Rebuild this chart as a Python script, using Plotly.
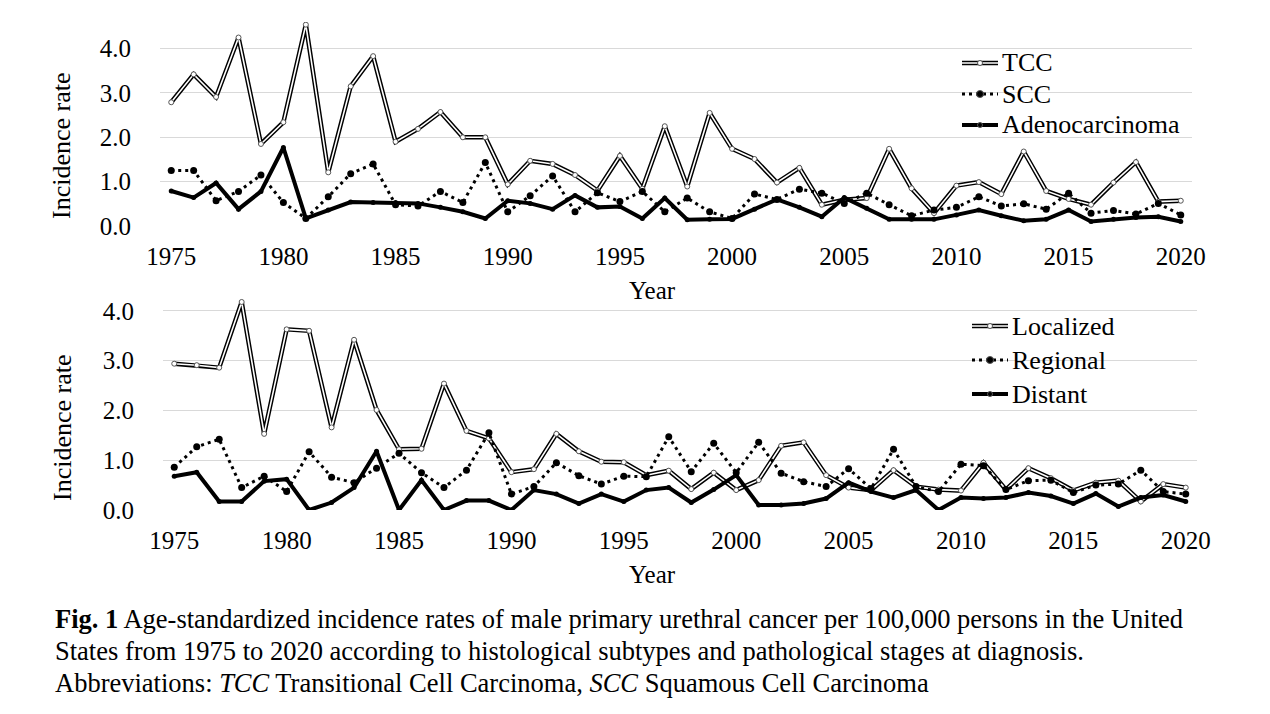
import plotly.graph_objects as go

# ---- data ----
years = list(range(1975, 2021))

# top panel: histological subtypes
tcc = [2.79, 3.42, 2.91, 4.25, 1.85, 2.34, 4.54, 1.21, 3.15, 3.83,
       1.90, 2.19, 2.57, 2.00, 2.00, 0.94, 1.47, 1.40, 1.15, 0.80,
       1.58, 0.84, 2.25, 0.89, 2.55, 1.74, 1.51, 0.98, 1.31, 0.48,
       0.59, 0.63, 1.74, 0.85, 0.29, 0.91, 0.99, 0.72, 1.68, 0.79,
       0.61, 0.48, 0.98, 1.44, 0.55, 0.57]
scc = [1.25, 1.25, 0.57, 0.78, 1.15, 0.53, 0.17, 0.66, 1.18, 1.40,
       0.48, 0.45, 0.78, 0.53, 1.43, 0.32, 0.68, 1.13, 0.32, 0.75,
       0.55, 0.78, 0.32, 0.63, 0.32, 0.17, 0.72, 0.60, 0.83, 0.74,
       0.51, 0.74, 0.48, 0.23, 0.36, 0.42, 0.66, 0.45, 0.50, 0.38,
       0.74, 0.29, 0.35, 0.27, 0.51, 0.25]
adeno = [0.79, 0.64, 0.97, 0.38, 0.78, 1.77, 0.17, 0.36, 0.54, 0.53,
         0.53, 0.51, 0.42, 0.32, 0.17, 0.57, 0.51, 0.38, 0.69, 0.42,
         0.44, 0.17, 0.63, 0.14, 0.15, 0.16, 0.38, 0.60, 0.42, 0.21,
         0.64, 0.40, 0.15, 0.15, 0.15, 0.25, 0.36, 0.23, 0.12, 0.15,
         0.36, 0.10, 0.15, 0.19, 0.21, 0.10]

# bottom panel: stages at diagnosis
localized = [2.94, 2.91, 2.86, 4.18, 1.53, 3.63, 3.60, 1.66, 3.42, 2.01,
             1.22, 1.23, 2.54, 1.59, 1.44, 0.76, 0.82, 1.53, 1.18, 0.97,
             0.96, 0.70, 0.79, 0.42, 0.75, 0.40, 0.60, 1.29, 1.36, 0.70,
             0.45, 0.40, 0.80, 0.47, 0.41, 0.39, 0.95, 0.41, 0.84, 0.64,
             0.39, 0.55, 0.59, 0.17, 0.52, 0.45]
regional = [0.86, 1.27, 1.42, 0.45, 0.68, 0.37, 1.17, 0.66, 0.55, 0.84,
            1.14, 0.75, 0.45, 0.80, 1.55, 0.32, 0.47, 0.95, 0.69, 0.52,
            0.68, 0.67, 1.47, 0.77, 1.34, 0.75, 1.36, 0.74, 0.57, 0.47,
            0.83, 0.43, 1.22, 0.47, 0.37, 0.92, 0.89, 0.41, 0.59, 0.60,
            0.35, 0.50, 0.52, 0.80, 0.37, 0.32]
distant = [0.68, 0.76, 0.17, 0.17, 0.58, 0.62, 0.00, 0.15, 0.45, 1.18,
           0.00, 0.60, 0.00, 0.19, 0.19, 0.00, 0.40, 0.32, 0.13, 0.32,
           0.17, 0.40, 0.45, 0.15, 0.41, 0.70, 0.10, 0.10, 0.13, 0.23,
           0.55, 0.37, 0.25, 0.40, 0.00, 0.25, 0.23, 0.25, 0.35, 0.28,
           0.13, 0.33, 0.07, 0.25, 0.30, 0.17]

xticks = list(range(1975, 2021, 5))
yticks = [0, 1, 2, 3, 4]
ytick_text = ["0.0", "1.0", "2.0", "3.0", "4.0"]

W, H = 1270, 714
OFF = 8  # the page body adds an 8px margin; shift everything back by that
FONT = "Liberation Serif, Times New Roman, serif"


def px(x):
    return (x - OFF) / W


def py(y):
    return 1 - (y - OFF) / H


fig = go.Figure()


def add_panel(fig, xa, ya, series):
    s1, s2, s3 = series
    # double line: thick black underneath, thin white on top
    fig.add_trace(go.Scatter(x=years, y=s1, mode="lines", xaxis=xa, yaxis=ya,
                             line=dict(color="black", width=4.5)))
    fig.add_trace(go.Scatter(x=years, y=s1, mode="lines+markers", xaxis=xa, yaxis=ya,
                             line=dict(color="white", width=1.6),
                             marker=dict(size=5, color="white", line=dict(color="#555", width=1))))
    fig.add_trace(go.Scatter(x=years, y=s2, mode="lines+markers", xaxis=xa, yaxis=ya,
                             line=dict(color="black", width=3, dash="3px,4px"),
                             marker=dict(size=7, color="black")))
    fig.add_trace(go.Scatter(x=years, y=s3, mode="lines+markers", xaxis=xa, yaxis=ya,
                             line=dict(color="black", width=4),
                             marker=dict(size=5, color="black")))


add_panel(fig, "x", "y", (tcc, scc, adeno))
add_panel(fig, "x2", "y2", (localized, regional, distant))

xcommon = dict(showline=False, zeroline=False, ticks="", showgrid=False, automargin=False,
               tickvals=xticks, range=[1974.5, 2020.5], ticklabelstandoff=13,
               tickfont=dict(family=FONT, size=25, color="black"))
ycommon = dict(showline=False, zeroline=False, ticks="", showgrid=True, automargin=False,
               tickvals=yticks, ticktext=ytick_text, gridcolor="#d9d9d9", gridwidth=1,
               ticklabelstandoff=28, tickfont=dict(family=FONT, size=25, color="black"))

fig.update_layout(
    width=W, height=H,
    margin=dict(l=0, r=0, t=0, b=0),
    paper_bgcolor="white", plot_bgcolor="white",
    font=dict(family=FONT, size=24, color="black"),
    showlegend=False,
    xaxis=dict(domain=[px(160), px(1192)], anchor="y", **xcommon),
    yaxis=dict(domain=[py(226), py(22)], range=[0, 4.6], anchor="x", **ycommon),
    xaxis2=dict(domain=[px(163), px(1197)], anchor="y2", **xcommon),
    yaxis2=dict(domain=[py(510), py(296)], range=[0, 4.3], anchor="x2", **ycommon),
)

# axis titles
for yc in (146, 428):
    fig.add_annotation(text="Incidence rate", x=px(62), y=py(yc), xref="paper", yref="paper",
                       xanchor="center", yanchor="middle", textangle=-90, showarrow=False,
                       font=dict(family=FONT, size=26))
for yc in (291, 574):
    fig.add_annotation(text="Year", x=px(652), y=py(yc), xref="paper", yref="paper",
                       xanchor="center", yanchor="middle", showarrow=False,
                       font=dict(family=FONT, size=25))

# legend keys (drawn by hand so the double line can be shown)
legend_rows = [
    (962, [63, 94, 125], ["TCC", "SCC", "Adenocarcinoma"]),
    (972, [326, 360, 394], ["Localized", "Regional", "Distant"]),
]
styles = [
    [dict(color="black", width=4.5), dict(color="white", width=1.6)],
    [dict(color="black", width=3, dash="3px,4px")],
    [dict(color="black", width=4)],
]
for x0, ys, labels in legend_rows:
    x1 = x0 + 36
    xm = (x0 + x1) / 2
    for yc, lab, st in zip(ys, labels, styles):
        for ln in st:
            fig.add_shape(type="line", xref="paper", yref="paper",
                          x0=px(x0), x1=px(x1), y0=py(yc), y1=py(yc), line=ln)
        fig.add_annotation(text=lab, x=px(x1 + 2), y=py(yc), xref="paper", yref="paper",
                           xanchor="left", yanchor="middle", showarrow=False,
                           font=dict(family=FONT, size=26))
    # small markers in the middle of each key line
    for yc, rr, fc in zip(ys, [2.5, 3.5, 2.5], ["white", "black", "black"]):
        fig.add_shape(type="circle", xref="paper", yref="paper",
                      x0=px(xm - rr), x1=px(xm + rr), y0=py(yc + rr), y1=py(yc - rr),
                      fillcolor=fc, line=dict(color="#555", width=1))

# caption
caption = [
    "<b>Fig. 1</b> Age-standardized incidence rates of male primary urethral cancer per 100,000 persons in the United",
    "States from 1975 to 2020 according to histological subtypes and pathological stages at diagnosis.",
    "Abbreviations: <i>TCC</i> Transitional Cell Carcinoma, <i>SCC</i> Squamous Cell Carcinoma",
]
for i, line in enumerate(caption):
    fig.add_annotation(text=line, x=px(53), y=py(619 + 32 * i), xref="paper", yref="paper",
                       xanchor="left", yanchor="middle", align="left", showarrow=False,
                       font=dict(family=FONT, size=26.5))

fig.write_html("out.html")
